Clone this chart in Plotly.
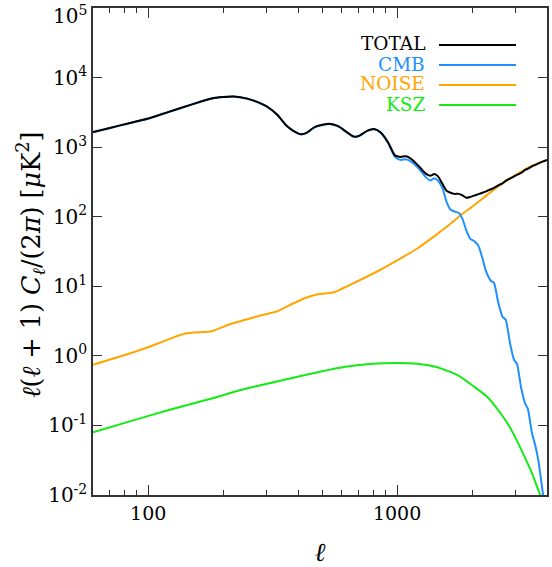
import plotly.graph_objects as go

# Angular power spectrum components, D_ell = ell(ell+1) C_ell / 2pi  [muK^2]
ell_cmb = [60, 70, 80, 100, 120, 150, 180, 200, 220, 250, 280, 300, 330, 360, 380,
           410, 430, 470, 535, 580, 620, 670, 700, 760, 810, 860, 920, 980, 1030,
           1090, 1150, 1230, 1300, 1360, 1410, 1460, 1520, 1580, 1640, 1700, 1770,
           1830, 1900, 1970, 2050, 2120, 2200, 2280, 2380, 2450, 2550, 2650, 2730,
           2850, 2950, 3030, 3150, 3270, 3350, 3480, 3600, 3700, 3860, 3900]
cmb = [1632, 1875, 2112, 2567, 3184, 4121, 5008, 5246, 5333, 4975, 4330, 3831, 2912,
       2023, 1743, 1527, 1578, 1957, 2162, 1990, 1687, 1406, 1430, 1715, 1802, 1605,
       1153, 725, 657, 668, 605, 480, 374, 333, 356, 328, 260, 164, 126, 119, 113,
       93.3, 62.7, 48.1, 44.0, 38.2, 25.7, 16.2, 12.0, 11.2, 5.79, 3.65, 3.30, 1.44,
       0.879, 0.77, 0.348, 0.205, 0.174, 0.0785, 0.0494, 0.0301, 0.0101, 0.0085]

ell_total = [60, 70, 80, 100, 120, 150, 180, 200, 220, 250, 280, 300, 330, 360, 380,
             410, 430, 470, 535, 580, 620, 670, 700, 760, 810, 860, 920, 980, 1030,
             1090, 1150, 1230, 1300, 1360, 1410, 1460, 1520, 1580, 1640, 1700, 1770,
             1830, 1900, 1970, 2050, 2120, 2200, 2280, 2380, 2450, 2550, 2650, 2730,
             2850, 2950, 3030, 3150, 3270, 3350, 3480, 3600, 3700, 3860, 4000]
total = [1650, 1890, 2125, 2580, 3195, 4130, 5015, 5255, 5340, 4985, 4340, 3840, 2920,
         2030, 1750, 1540, 1590, 1970, 2175, 2005, 1700, 1420, 1445, 1730, 1820, 1625,
         1170, 762, 725, 740, 660, 521, 420, 387, 413, 380, 297, 236, 221, 213, 213,
         203, 187, 193, 203, 211, 221, 232, 248, 260, 283, 302, 328, 356, 381, 400,
         427, 472, 488, 530, 557, 585, 625, 657]

ell_noise = [60, 80, 100, 140, 180, 210, 250, 290, 330, 380, 430, 480, 560, 600, 700,
             850, 1000, 1200, 1400, 1600, 1800, 2000, 2200, 2500, 3000, 3500, 4000]
noise = [0.745, 1.02, 1.33, 2.08, 2.26, 2.80, 3.36, 3.90, 4.37, 5.61, 6.84, 7.67, 8.20,
         9.21, 12.0, 17.0, 23.6, 34.6, 51.4, 74.0, 105, 139, 181, 260, 400, 548, 657]

ell_ksz = [60, 85, 120, 175, 250, 360, 500, 620, 800, 1000, 1200, 1450, 1750, 2000,
           2300, 2550, 2800, 3000, 3250, 3500, 3700, 3800]
ksz = [0.0793, 0.115, 0.165, 0.237, 0.341, 0.461, 0.601, 0.697, 0.770, 0.788, 0.770,
       0.686, 0.526, 0.378, 0.258, 0.165, 0.102, 0.0644, 0.0355, 0.0196, 0.0115, 0.0090]

series_names = ["TOTAL", "CMB", "NOISE", "KSZ"]
series_colors = {"TOTAL": "#000000", "CMB": "#1e90ff", "NOISE": "#ffa500", "KSZ": "#14eb14"}

y_tickvals = [1e-2, 1e-1, 1e0, 1e1, 1e2, 1e3, 1e4, 1e5]
y_ticktext = ["10<sup>-2</sup>", "10<sup>-1</sup>", "10<sup>0</sup>", "10<sup>1</sup>",
              "10<sup>2</sup>", "10<sup>3</sup>", "10<sup>4</sup>", ""]
top_label = "10<sup>5</sup>"
x_tickvals = [100, 1000]
x_ticktext = ["100", "1000"]
x_minorvals = [70, 80, 90, 200, 300, 400, 500, 600, 700, 800, 900, 2000, 3000, 4000]

SERIF = "DejaVu Serif"

fig = go.Figure()
line_kw = dict(shape="spline", smoothing=0.6, width=2)
fig.add_trace(go.Scatter(x=ell_noise, y=noise, mode="lines", name="NOISE",
                         line=dict(color=series_colors["NOISE"], **line_kw)))
fig.add_trace(go.Scatter(x=ell_ksz, y=ksz, mode="lines", name="KSZ",
                         line=dict(color=series_colors["KSZ"], **line_kw)))
fig.add_trace(go.Scatter(x=ell_cmb, y=cmb, mode="lines", name="CMB",
                         line=dict(color=series_colors["CMB"], **line_kw)))
fig.add_trace(go.Scatter(x=ell_total, y=total, mode="lines", name="TOTAL",
                         line=dict(color=series_colors["TOTAL"], **line_kw)))

# Margins place the plotting box; legend drawn as right-aligned labels with samples
L, R, T, B = 93, 5, 8, 72
W, H = 552, 567
pw, ph = W - L - R, H - T - B

def px_x(p):
    return (p - L) / pw

def px_y(p):
    return (H - B - p) / ph

legend_y = [44, 64, 84, 104]
for name, yy in zip(series_names, legend_y):
    fig.add_annotation(x=px_x(427), y=px_y(yy), xref="paper", yref="paper",
                       text=name, showarrow=False, xanchor="right", yanchor="middle",
                       font=dict(family=SERIF, size=18.5, color=series_colors[name]))
    fig.add_shape(type="line", xref="paper", yref="paper",
                  x0=px_x(439), x1=px_x(516), y0=px_y(yy + 1), y1=px_y(yy + 1),
                  line=dict(color=series_colors[name], width=2))

# topmost decade label sits just inside the page edge
fig.add_annotation(x=px_x(89), y=px_y(15), xref="paper", yref="paper",
                   text=top_label, showarrow=False, xanchor="right", yanchor="middle",
                   font=dict(family=SERIF, size=20, color="black"))

fig.add_annotation(x=px_x(30), y=px_y(265), xref="paper", yref="paper",
                   text="<i>ℓ</i>(<i>ℓ</i> + 1) <i>C</i><sub><i>ℓ</i></sub>/(2<i>π</i>) [<i>μ</i>K<sup>2</sup>]",
                   textangle=-90, showarrow=False, xanchor="center", yanchor="middle",
                   font=dict(family=SERIF, size=25.5, color="black"))

fig.update_layout(
    width=W, height=H,
    margin=dict(l=L, r=R, t=T, b=B, autoexpand=False),
    paper_bgcolor="white", plot_bgcolor="white",
    showlegend=False,
    font=dict(family=SERIF, color="black"),
    xaxis=dict(
        type="log", range=[1.7781, 3.6022], automargin=False,
        tickmode="array", tickvals=x_tickvals, ticktext=x_ticktext,
        ticks="inside", ticklen=10, tickwidth=1, tickcolor="#333",
        minor=dict(tickmode="array", tickvals=x_minorvals, ticks="inside",
                   ticklen=5, tickwidth=1, tickcolor="#333", showgrid=False),
        showline=True, linecolor="#333", linewidth=1.5, mirror="allticks",
        showgrid=False, zeroline=False,
        tickfont=dict(family=SERIF, size=19, color="black"),
        title=dict(text="<i>ℓ</i>", font=dict(family=SERIF, size=26, color="black"),
                   standoff=21),
    ),
    yaxis=dict(
        type="log", range=[-2.001, 5.001], automargin=False,
        tickmode="array", tickvals=y_tickvals, ticktext=y_ticktext,
        ticks="inside", ticklen=9, tickwidth=1, tickcolor="#333",
        showline=True, linecolor="#333", linewidth=1.5, mirror="allticks",
        showgrid=False, zeroline=False,
        tickfont=dict(family=SERIF, size=20, color="black"),
    ),
)

fig.write_html("out.html")
